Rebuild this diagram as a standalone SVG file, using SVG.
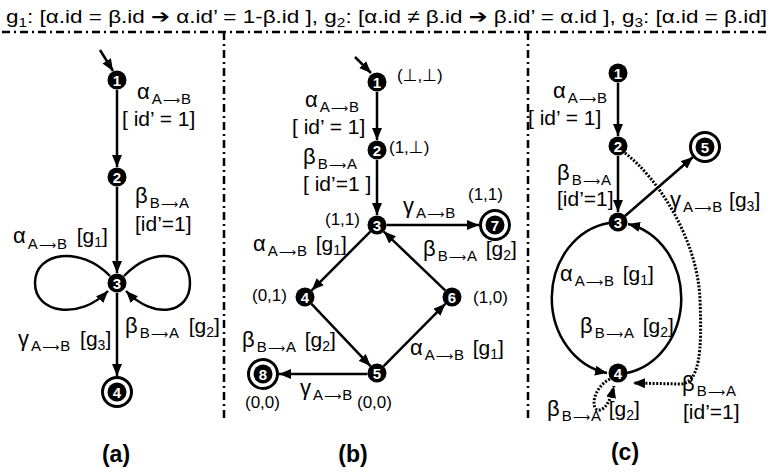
<svg xmlns="http://www.w3.org/2000/svg" width="772" height="475" viewBox="0 0 772 475">
<style>
text{font-family:"Liberation Sans","DejaVu Sans",Arial,sans-serif;fill:#000}
.lb{font-size:21px}
.gk{font-size:22px}
.sb{font-size:15px}
.ar{font-family:"DejaVu Sans",sans-serif;font-size:12px}
.sg{font-size:14px}
.st{font-size:17px}
.cap{font-size:23px;font-weight:bold}
.nt{font-size:15px;fill:#fff;text-anchor:middle;font-weight:bold}
.e{stroke:#000;stroke-width:2.5;fill:none;marker-end:url(#ah)}
.d{stroke:#000;stroke-width:3;fill:none;stroke-dasharray:2 1.6;marker-end:url(#ah)}
.div{stroke:#000;stroke-width:2.5;fill:none;stroke-dasharray:8 4 2 4}
.n{fill:#000}
.o{fill:#fff;stroke:#000;stroke-width:3}
</style>
<defs>
<marker id="ah" markerUnits="userSpaceOnUse" markerWidth="13" markerHeight="10" refX="12" refY="5" orient="auto">
<path d="M0,0 L12,5 L0,10 z" fill="#000"/>
</marker>
</defs>
<text x="6" y="23" font-size="19" textLength="761" lengthAdjust="spacingAndGlyphs">g<tspan font-size="13" dy="4">1</tspan><tspan dy="-4">: [α.id = β.id  </tspan><tspan font-family="DejaVu Sans" font-weight="bold">➔</tspan><tspan> α.id’ = 1-β.id ], g</tspan><tspan font-size="13" dy="4">2</tspan><tspan dy="-4">: [α.id ≠ β.id  </tspan><tspan font-family="DejaVu Sans" font-weight="bold">➔</tspan><tspan> β.id’ = α.id ], g</tspan><tspan font-size="13" dy="4">3</tspan><tspan dy="-4">: [α.id = β.id]</tspan></text>
<g id="dividers">
<line class="div" x1="2" y1="32" x2="770" y2="32"/>
<line class="div" x1="224" y1="32" x2="224" y2="422"/>
<line class="div" x1="528" y1="32" x2="528" y2="422"/>
</g>
<g id="connectors">
<!-- (a) -->
<line class="e" x1="100" y1="50" x2="113" y2="71"/>
<line class="e" x1="117" y1="90" x2="117" y2="167"/>
<line class="e" x1="117" y1="187" x2="117" y2="273"/>
<line class="e" x1="117" y1="293" x2="117" y2="376"/>
<path class="e" d="M110,276 C80,245 35,252 35,283 C35,314 80,320 108,291"/>
<path class="e" d="M124,276 C154,245 190,252 190,283 C190,314 154,320 126,291"/>
<!-- (b) -->
<line class="e" x1="355" y1="57" x2="371" y2="73"/>
<line class="e" x1="377" y1="92" x2="377" y2="140"/>
<line class="e" x1="377" y1="160" x2="377" y2="215"/>
<line class="e" x1="386.5" y1="225" x2="479" y2="225"/>
<line class="e" x1="370.3" y1="231.7" x2="311.7" y2="290.3"/>
<line class="e" x1="311.5" y1="303.9" x2="370.5" y2="366.1"/>
<line class="e" x1="383.7" y1="366.2" x2="445.3" y2="303.8"/>
<line class="e" x1="445.2" y1="290.4" x2="383.8" y2="231.6"/>
<line class="e" x1="367.5" y1="374" x2="279" y2="374"/>
<!-- (c) -->
<line class="e" x1="618" y1="83" x2="618" y2="136"/>
<line class="e" x1="618" y1="156" x2="618" y2="212"/>
<line class="e" x1="625" y1="216" x2="693" y2="157"/>
<path class="e" d="M609,223 A67 76 0 0 0 607,373"/>
<path class="e" d="M627,373 A67 76 0 0 0 628,224"/>
<path class="d" d="M625,153 C658,178 698,240 700,300 C702,350 700,384 680,384 L633,383"/>
<path class="d" d="M610,379 C592,388 590,412 600,410 C607,408 611,398 614,386"/>
</g>
<!-- nodes (a) -->
<g id="a1"><circle class="n" cx="117" cy="80" r="9.5"/><text class="nt" x="117" y="85.5">1</text></g>
<g id="a2"><circle class="n" cx="117" cy="177" r="9.5"/><text class="nt" x="117" y="182.5">2</text></g>
<g id="a3"><circle class="n" cx="117" cy="283" r="9.5"/><text class="nt" x="117" y="288.5">3</text></g>
<g id="a4"><circle class="o" cx="117" cy="392" r="14.5"/><circle class="n" cx="117" cy="392" r="9.5"/><text class="nt" x="117" y="397.5">4</text></g>
<!-- nodes (b) -->
<g id="b1"><circle class="n" cx="377" cy="82" r="9.5"/><text class="nt" x="377" y="87.5">1</text></g>
<g id="b2"><circle class="n" cx="377" cy="150" r="9.5"/><text class="nt" x="377" y="155.5">2</text></g>
<g id="b3"><circle class="n" cx="377" cy="225" r="9.5"/><text class="nt" x="377" y="230.5">3</text></g>
<g id="b4"><circle class="n" cx="305" cy="297" r="9.5"/><text class="nt" x="305" y="302.5">4</text></g>
<g id="b5"><circle class="n" cx="377" cy="373" r="9.5"/><text class="nt" x="377" y="378.5">5</text></g>
<g id="b6"><circle class="n" cx="452" cy="297" r="9.5"/><text class="nt" x="452" y="302.5">6</text></g>
<g id="b7"><circle class="o" cx="495" cy="225" r="14.5"/><circle class="n" cx="495" cy="225" r="9.5"/><text class="nt" x="495" y="230.5">7</text></g>
<g id="b8"><circle class="o" cx="263" cy="374" r="14.5"/><circle class="n" cx="263" cy="374" r="9.5"/><text class="nt" x="263" y="379.5">8</text></g>
<!-- nodes (c) -->
<g id="c1"><circle class="n" cx="618" cy="73" r="9.5"/><text class="nt" x="618" y="78.5">1</text></g>
<g id="c2"><circle class="n" cx="618" cy="146" r="9.5"/><text class="nt" x="618" y="151.5">2</text></g>
<g id="c3"><circle class="n" cx="618" cy="222" r="9.5"/><text class="nt" x="618" y="227.5">3</text></g>
<g id="c4"><circle class="n" cx="618" cy="373" r="9.5"/><text class="nt" x="618" y="378.5">4</text></g>
<g id="c5"><circle class="o" cx="705" cy="147" r="14.5"/><circle class="n" cx="705" cy="147" r="9.5"/><text class="nt" x="705" y="152.5">5</text></g>
<!-- labels (a) -->
<g id="labels-a">
<text class="lb" x="137" y="99"><tspan class="gk">α</tspan><tspan class="sb" dx="2" dy="5">A<tspan class="ar" dx="1">⟶</tspan><tspan dx="1">B</tspan></tspan></text>
<text class="lb" x="122" y="126">[ id’ = 1]</text>
<text class="lb" x="135" y="203"><tspan class="gk">β</tspan><tspan class="sb" dx="2" dy="5">B<tspan class="ar" dx="1">⟶</tspan><tspan dx="1">A</tspan></tspan></text>
<text class="lb" x="135" y="231">[id’=1]</text>
<text class="lb" x="13" y="243"><tspan class="gk">α</tspan><tspan class="sb" dx="2" dy="6">A<tspan class="ar" dx="1">⟶</tspan><tspan dx="1">B</tspan></tspan><tspan dx="4" dy="-6"> [g</tspan><tspan class="sg" dy="4">1</tspan><tspan dy="-4">]</tspan></text>
<text class="lb" x="125" y="333"><tspan class="gk">β</tspan><tspan class="sb" dx="2" dy="5">B<tspan class="ar" dx="1">⟶</tspan><tspan dx="1">A</tspan></tspan><tspan dx="4" dy="-5"> [g</tspan><tspan class="sg" dy="4">2</tspan><tspan dy="-4">]</tspan></text>
<text class="lb" x="18" y="346"><tspan class="gk">γ</tspan><tspan class="sb" dx="2" dy="5">A<tspan class="ar" dx="1">⟶</tspan><tspan dx="1">B</tspan></tspan><tspan dx="4" dy="-5"> [g</tspan><tspan class="sg" dy="4">3</tspan><tspan dy="-4">]</tspan></text>
<text class="cap" x="116" y="462" text-anchor="middle">(a)</text>
</g>
<!-- labels (b) -->
<g id="labels-b">
<text class="st" x="397" y="81">(⊥,⊥)</text>
<text class="lb" x="305" y="107"><tspan class="gk">α</tspan><tspan class="sb" dx="2" dy="5">A<tspan class="ar" dx="1">⟶</tspan><tspan dx="1">B</tspan></tspan></text>
<text class="lb" x="292" y="134">[ id’ = 1]</text>
<text class="st" x="389" y="153">(1,⊥)</text>
<text class="lb" x="303" y="164"><tspan class="gk">β</tspan><tspan class="sb" dx="2" dy="5">B<tspan class="ar" dx="1">⟶</tspan><tspan dx="1">A</tspan></tspan></text>
<text class="lb" x="303" y="191">[ id’=1 ]</text>
<text class="st" x="468" y="200">(1,1)</text>
<text class="lb" x="403" y="213"><tspan class="gk">γ</tspan><tspan class="sb" dx="2" dy="5">A<tspan class="ar" dx="1">⟶</tspan><tspan dx="1">B</tspan></tspan></text>
<text class="st" x="325" y="225">(1,1)</text>
<text class="lb" x="253" y="251"><tspan class="gk">α</tspan><tspan class="sb" dx="2" dy="5">A<tspan class="ar" dx="1">⟶</tspan><tspan dx="1">B</tspan></tspan><tspan dx="3" dy="-5"> [g</tspan><tspan class="sg" dy="4">1</tspan><tspan dy="-4">]</tspan></text>
<text class="lb" x="423" y="256"><tspan class="gk">β</tspan><tspan class="sb" dx="2" dy="5">B<tspan class="ar" dx="1">⟶</tspan><tspan dx="1">A</tspan></tspan><tspan dx="3" dy="-5"> [g</tspan><tspan class="sg" dy="4">2</tspan><tspan dy="-4">]</tspan></text>
<text class="st" x="252" y="301">(0,1)</text>
<text class="st" x="473" y="303">(1,0)</text>
<text class="lb" x="242" y="347"><tspan class="gk">β</tspan><tspan class="sb" dx="2" dy="5">B<tspan class="ar" dx="1">⟶</tspan><tspan dx="1">A</tspan></tspan><tspan dx="3" dy="-5"> [g</tspan><tspan class="sg" dy="4">2</tspan><tspan dy="-4">]</tspan></text>
<text class="lb" x="410" y="355"><tspan class="gk">α</tspan><tspan class="sb" dx="2" dy="5">A<tspan class="ar" dx="1">⟶</tspan><tspan dx="1">B</tspan></tspan><tspan dx="3" dy="-5"> [g</tspan><tspan class="sg" dy="4">1</tspan><tspan dy="-4">]</tspan></text>
<text class="lb" x="300" y="395"><tspan class="gk">γ</tspan><tspan class="sb" dx="2" dy="5">A<tspan class="ar" dx="1">⟶</tspan><tspan dx="1">B</tspan></tspan></text>
<text class="st" x="357" y="408">(0,0)</text>
<text class="st" x="245" y="408">(0,0)</text>
<text class="cap" x="353" y="462" text-anchor="middle">(b)</text>
</g>
<!-- labels (c) -->
<g id="labels-c">
<text class="lb" x="553" y="98"><tspan class="gk">α</tspan><tspan class="sb" dx="2" dy="5">A<tspan class="ar" dx="1">⟶</tspan><tspan dx="1">B</tspan></tspan></text>
<text class="lb" x="528" y="125">[ id’ = 1]</text>
<text class="lb" x="557" y="180"><tspan class="gk">β</tspan><tspan class="sb" dx="2" dy="5">B<tspan class="ar" dx="1">⟶</tspan><tspan dx="1">A</tspan></tspan></text>
<text class="lb" x="557" y="206">[id’=1]</text>
<text class="lb" x="670" y="207"><tspan class="gk">γ</tspan><tspan class="sb" dx="2" dy="5">A<tspan class="ar" dx="1">⟶</tspan><tspan dx="1">B</tspan></tspan><tspan dx="1" dy="-5"> [g</tspan><tspan class="sg" dy="4">3</tspan><tspan dy="-4">]</tspan></text>
<text class="lb" x="560" y="281"><tspan class="gk">α</tspan><tspan class="sb" dx="2" dy="5">A<tspan class="ar" dx="1">⟶</tspan><tspan dx="1">B</tspan></tspan><tspan dx="3" dy="-5"> [g</tspan><tspan class="sg" dy="4">1</tspan><tspan dy="-4">]</tspan></text>
<text class="lb" x="580" y="333"><tspan class="gk">β</tspan><tspan class="sb" dx="2" dy="5">B<tspan class="ar" dx="1">⟶</tspan><tspan dx="1">A</tspan></tspan><tspan dx="3" dy="-5"> [g</tspan><tspan class="sg" dy="4">2</tspan><tspan dy="-4">]</tspan></text>
<text class="lb" x="682" y="391"><tspan class="gk">β</tspan><tspan class="sb" dx="2" dy="5">B<tspan class="ar" dx="1">⟶</tspan><tspan dx="1">A</tspan></tspan></text>
<text class="lb" x="683" y="419">[id’=1]</text>
<text class="lb" x="547" y="416"><tspan class="gk">β</tspan><tspan class="sb" dx="2" dy="5">B<tspan class="ar" dx="1">⟶</tspan><tspan dx="1">A</tspan></tspan><tspan dx="2" dy="-5"> [g</tspan><tspan class="sg" dy="4">2</tspan><tspan dy="-4">]</tspan></text>
<text class="cap" x="625" y="460" text-anchor="middle">(c)</text>
</g>
</svg>
